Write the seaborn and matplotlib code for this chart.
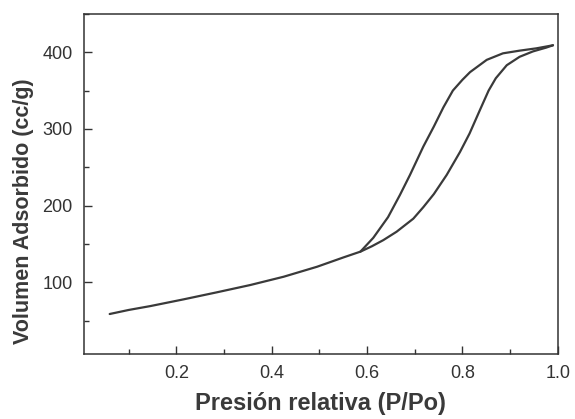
import matplotlib
matplotlib.use("Agg")
import matplotlib.pyplot as plt
import pandas as pd
import seaborn as sns
from matplotlib.ticker import MultipleLocator

# rama de adsorción
ads_p = [0.060, 0.100, 0.145, 0.215, 0.285, 0.355, 0.425, 0.495, 0.551, 0.586,
         0.610, 0.634, 0.662, 0.697, 0.718, 0.740, 0.767, 0.795, 0.815, 0.837,
         0.855, 0.870, 0.893, 0.920, 0.948, 0.976, 0.990]
ads_v = [58.7, 64, 69, 77.8, 87, 96.5, 107.3, 120.3, 132.6, 140,
         147, 155, 166, 183, 198, 215, 240, 270, 294, 325,
         350, 366, 383, 394, 401, 406, 409]

# rama de desorción
des_p = [0.990, 0.955, 0.920, 0.885, 0.851, 0.816, 0.800, 0.780, 0.760, 0.740,
         0.718, 0.690, 0.669, 0.644, 0.613, 0.586]
des_v = [409, 405, 402, 398.5, 390, 374, 364, 350, 328, 303,
         277, 240, 214, 185, 158, 140]

ads = pd.DataFrame({'p': ads_p, 'v': ads_v})
des = pd.DataFrame({'p': des_p, 'v': des_v})

sns.set_style('ticks')
plt.rcParams['font.family'] = ['Liberation Sans', 'DejaVu Sans']

fig = plt.figure(figsize=(5.75, 4.19), dpi=100)
ax = fig.add_axes([0.146, 0.155, 0.824, 0.812])

sns.lineplot(data=ads, x='p', y='v', sort=False, color='#3a3a3a', lw=1.6, ax=ax)
sns.lineplot(data=des, x='p', y='v', sort=False, color='#3a3a3a', lw=1.6, ax=ax)

ax.set_xlim(0.006, 1.0)
ax.set_ylim(6.5, 450)
ax.set_xticks([0.2, 0.4, 0.6, 0.8, 1.0])
ax.set_yticks([100, 200, 300, 400])
ax.xaxis.set_minor_locator(MultipleLocator(0.1))
ax.yaxis.set_minor_locator(MultipleLocator(50))
ax.tick_params(which='both', direction='in', colors='#333333', labelsize=13,
               top=False, right=False, width=1)
ax.tick_params(which='major', length=6, pad=8)
ax.tick_params(which='minor', length=3.5)
for s in ax.spines.values():
    s.set_color('#333333')
    s.set_linewidth(1.1)

ax.set_xlabel('Presión relativa (P/Po)', fontsize=17, fontweight='bold', color='#3a3a3a')
ax.set_ylabel('Volumen Adsorbido (cc/g)', fontsize=15.5, fontweight='bold', color='#3a3a3a')
ax.xaxis.set_label_coords(0.5, -0.112)
ax.yaxis.set_label_coords(-0.105, 0.42)

fig.savefig('out.png', dpi=100)
